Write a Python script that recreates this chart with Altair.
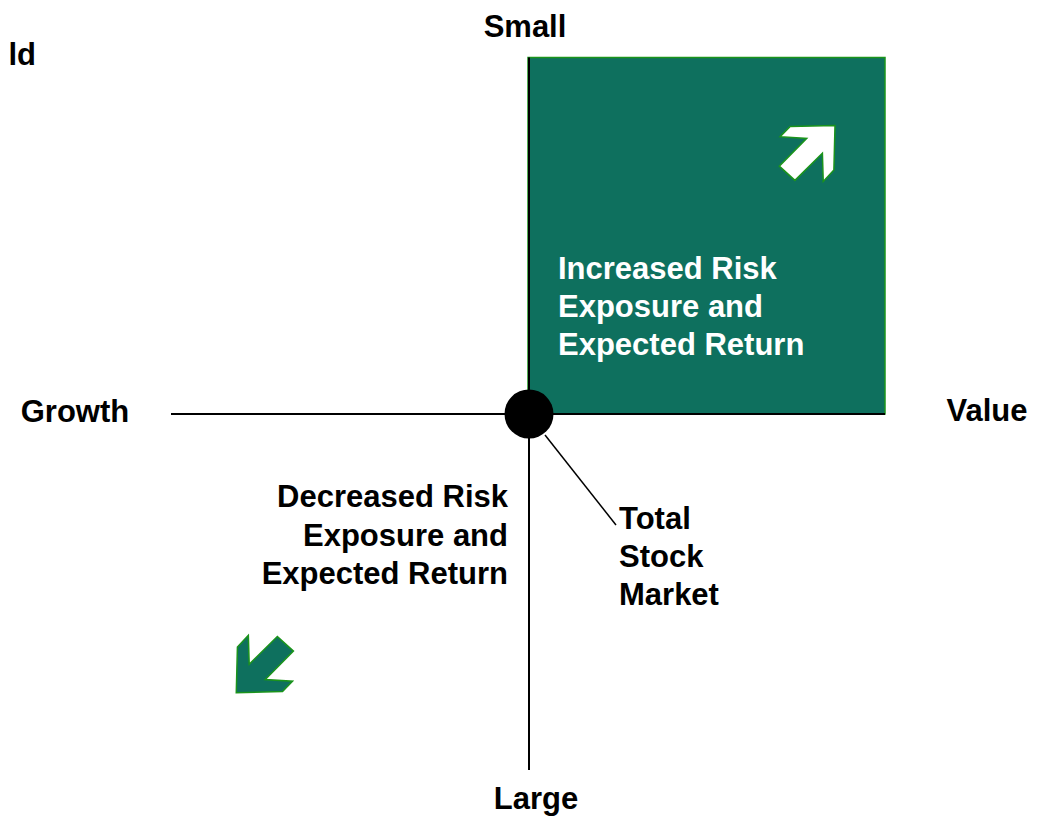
import altair as alt
import pandas as pd

# ---- canvas (page pixels) ----
W, H = 1034, 809
X0, Y0 = 8, 8

FONT = "Liberation Sans"
FS = 31
TEAL = "#0E705E"
GREEN = "#1B941B"

# ---- quadrant box: Value / Small ----
box_x = [528]
box_x2 = [885]
box_y = [57.5]
box_y2 = [414]

# ---- axis lines and leader ----
line_name = ["style axis", "size axis", "leader"]
line_x = [171, 529, 545]
line_x2 = [885, 529, 616]
line_y = [414, 57.5, 435]
line_y2 = [414, 770, 525]
line_w = [2, 2, 1.5]

# ---- total market point ----
pt_x = [529]
pt_y = [414]
pt_diam = [49]

# ---- labels ----
c_text = ["Small", "Large", "Growth", "Value"]
c_x = [525, 536, 75, 987]
c_y = [36.5, 809, 422, 421]

l_text = ["Increased Risk", "Exposure and", "Expected Return", "Total", "Stock", "Market"]
l_x = [558, 558, 558, 619, 619, 619]
l_y = [279, 317, 355, 529, 567, 605]
l_col = ["white", "white", "white", "black", "black", "black"]

r_text = ["ld", "Decreased Risk", "Exposure and", "Expected Return"]
r_x = [36, 508, 508, 508]
r_y = [65, 507, 546, 584]

# ---- arrows ----
arr_x = [807, 265]
arr_y = [153.5, 664]
arr_fill = ["white", TEAL]
arr_size = [3136, 3300]

ARROW_UP = ("M -0.61 -0.96 L 1 -1 L 0.96 0.59 L 0.58 1 L 0.55 -0.01 L -0.43 0.96 "
            "L -0.99 0.45 L -0.01 -0.54 L -0.96 -0.6 Z")
ARROW_DOWN = ("M 0.61 0.96 L -1 1 L -0.96 -0.59 L -0.58 -1 L -0.55 0.01 L 0.43 -0.96 "
              "L 0.99 -0.45 L 0.01 0.54 L 0.96 0.6 Z")

xs = alt.Scale(domain=[X0, X0 + W])
ys = alt.Scale(domain=[Y0, Y0 + H], reverse=True)

def X(f="x"):
    return alt.X(f"{f}:Q", scale=xs, axis=None)

def Y(f="y"):
    return alt.Y(f"{f}:Q", scale=ys, axis=None)

box = alt.Chart(pd.DataFrame({"x": box_x, "x2": box_x2, "y": box_y, "y2": box_y2})).mark_rect(
    fill=TEAL, stroke=GREEN, strokeWidth=1.5
).encode(x=X(), x2="x2:Q", y=Y(), y2="y2:Q")

lines = alt.Chart(pd.DataFrame({"name": line_name, "x": line_x, "x2": line_x2,
                                "y": line_y, "y2": line_y2, "w": line_w})).mark_rule(
    color="black"
).encode(x=X(), x2="x2:Q", y=Y(), y2="y2:Q", strokeWidth=alt.StrokeWidth("w:Q", scale=None))

point = alt.Chart(pd.DataFrame({"x": pt_x, "y": pt_y, "s": [d * d for d in pt_diam]})).mark_point(
    shape="circle", filled=True, color="black", opacity=1
).encode(x=X(), y=Y(), size=alt.Size("s:Q", scale=None))

arrow_df = pd.DataFrame({"x": arr_x, "y": arr_y, "fill": arr_fill, "size": arr_size})
arrow_up = alt.Chart(arrow_df.iloc[[0]]).mark_point(
    shape=ARROW_UP, filled=True, stroke=GREEN, strokeWidth=1.5, opacity=1, fillOpacity=1
).encode(x=X(), y=Y(), fill=alt.Fill("fill:N", scale=None), size=alt.Size("size:Q", scale=None))
arrow_down = alt.Chart(arrow_df.iloc[[1]]).mark_point(
    shape=ARROW_DOWN, filled=True, stroke=GREEN, strokeWidth=1.5, opacity=1, fillOpacity=1
).encode(x=X(), y=Y(), fill=alt.Fill("fill:N", scale=None), size=alt.Size("size:Q", scale=None))

def text_layer(texts, xv, yv, align, colors=None):
    df = pd.DataFrame({"t": texts, "x": xv, "y": yv,
                       "c": colors if colors else ["black"] * len(texts)})
    return alt.Chart(df).mark_text(
        font=FONT, fontSize=FS, fontWeight="bold", align=align, baseline="alphabetic"
    ).encode(x=X(), y=Y(), text="t:N", color=alt.Color("c:N", scale=None))

center_labels = text_layer(c_text, c_x, c_y, "center")
left_labels = text_layer(l_text, l_x, l_y, "left", l_col)
right_labels = text_layer(r_text, r_x, r_y, "right")

chart = alt.layer(
    box, lines, point, arrow_up, arrow_down, center_labels, left_labels, right_labels
).properties(
    width=W, height=H, padding=0, background="white",
    autosize=alt.AutoSizeParams(type="none")
).configure_view(stroke=None)

chart.save("out.html", embed_options={"renderer": "svg", "actions": False})
